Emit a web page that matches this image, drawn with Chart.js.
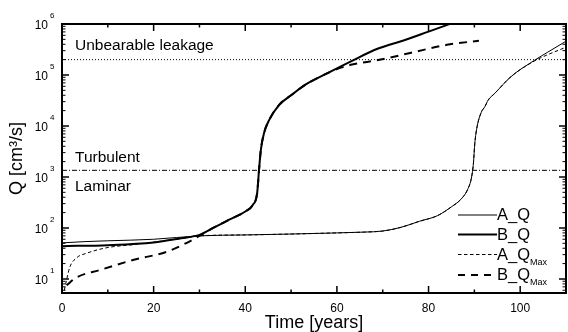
<!DOCTYPE html>
<html>
<head>
<meta charset="utf-8">
<script src="https://cdn.jsdelivr.net/npm/chart.js@4/dist/chart.umd.min.js"></script>
<style>
  html, body { margin: 0; padding: 0; background: #fff; }
  canvas { display: block; }
</style>
</head>
<body>
<canvas id="leakChart" width="568" height="332"></canvas>
<script>
// 1. DATA

const aQYears  = [0, 5, 10, 20, 30, 40, 50, 60, 66, 70, 74, 78, 82, 85, 87, 88.5, 89.4, 89.8, 90.1, 90.6, 91.5, 92.3, 93, 94.5, 98, 103.2, 106, 110];
const aQValues = [51, 54, 56, 60, 70, 73, 76, 80, 83, 87, 103, 135, 175, 260, 360, 560, 1000, 1870, 4600, 9700, 18500, 24000, 32000, 44000, 93000, 196000, 280000, 460000];

const bQYears  = [0, 10, 20, 26, 30, 33, 36.5, 40, 41.6, 42.6, 43, 43.4, 44.1, 45.2, 47.4, 50, 53.3, 57.6, 63.3, 69, 75, 80, 85];
const bQValues = [44, 46, 52, 63, 73, 100, 145, 210, 280, 490, 1370, 3400, 7300, 13000, 26000, 40000, 66000, 105000, 190000, 330000, 490000, 710000, 1030000];

const aQMaxYears  = [0.5, 1, 1.7, 3.2, 5.4, 9.8, 15.5, 21, 27, 30, 40, 50, 60, 66, 70, 74, 78, 82, 85, 87, 88.5, 89.4, 89.8, 90.1, 90.6, 91.5, 92.3, 93, 94.5, 98, 103.2, 106, 110];
const aQMaxValues = [6, 9.6, 17, 26, 32, 41, 47, 54, 64, 70, 73, 76, 80, 83, 87, 103, 135, 175, 260, 360, 560, 1000, 1870, 4600, 9700, 18500, 24000, 32000, 44000, 93000, 190000, 250000, 350000];

const bQMaxYears  = [1, 3, 8.3, 15.5, 22.8, 27, 30, 33, 36.5, 40, 41.6, 42.6, 43, 43.4, 44.1, 45.2, 47.4, 50, 53.3, 57.6, 60, 63.3, 69, 76, 84, 91];
const bQMaxValues = [7.5, 10.5, 15, 23.5, 34, 50, 70, 100, 145, 210, 280, 490, 1370, 3400, 7300, 13000, 26000, 40000, 66000, 105000, 130000, 160000, 196000, 270000, 390000, 470000];

const leakageLimit = 200000;   // "Unbearable leakage"
const turbulentLimit = 1350;   // Turbulent / Laminar
const xRange = [0, 110];
const yRange = [5.3, 1000000];
const xMajorTicks = [0, 20, 40, 60, 80, 100];
const yDecades = [1, 2, 3, 4, 5, 6];

// 2. HELPER

const FONT = "'Liberation Sans', Arial, Helvetica, sans-serif";

function toPoints(xs, ys) {
  return xs.map((x, i) => ({ x: x, y: ys[i] }));
}

function lineSet(label, xs, ys, width, dash) {
  return {
    label: label,
    data: toPoints(xs, ys),
    borderColor: '#000',
    borderWidth: width,
    borderDash: dash,
    pointRadius: 0,
    fill: false,
    cubicInterpolationMode: 'monotone'
  };
}

// 3. PLUGIN: frame, inward ticks, decade labels, notes, legend
const decorations = {
  id: 'decorations',
  afterDraw(chart) {
    const ctx = chart.ctx;
    const a = chart.chartArea;
    const xs = chart.scales.x;
    const ys = chart.scales.y;
    ctx.save();
    ctx.strokeStyle = '#000';
    ctx.fillStyle = '#000';

    // frame
    ctx.lineWidth = 2;
    ctx.strokeRect(a.left, a.top, a.right - a.left, a.bottom - a.top);

    // x ticks (top + bottom)
    ctx.lineWidth = 1.5;
    for (let v = xRange[0]; v <= xRange[1]; v += 10) {
      const px = xs.getPixelForValue(v);
      const len = v % 20 === 0 ? 7 : 3.5;
      ctx.beginPath();
      ctx.moveTo(px, a.bottom); ctx.lineTo(px, a.bottom - len);
      ctx.moveTo(px, a.top); ctx.lineTo(px, a.top + len);
      ctx.stroke();
    }

    // y ticks (left + right), log minor ticks
    for (let d = 0; d <= 6; d++) {
      for (let m = 1; m <= 9; m++) {
        const v = m * Math.pow(10, d);
        if (v < yRange[0] || v > yRange[1]) continue;
        const py = ys.getPixelForValue(v);
        const len = m === 1 ? 7 : 3.5;
        ctx.lineWidth = m === 1 ? 1.5 : 1;
        ctx.beginPath();
        ctx.moveTo(a.left, py); ctx.lineTo(a.left + len, py);
        ctx.moveTo(a.right, py); ctx.lineTo(a.right - len, py);
        ctx.stroke();
      }
    }

    // decade labels 10^n
    yDecades.forEach(d => {
      const py = ys.getPixelForValue(Math.pow(10, d));
      ctx.font = '12px ' + FONT;
      ctx.textAlign = 'right';
      ctx.textBaseline = 'middle';
      ctx.fillText('10', 48, py + 1.5);
      ctx.font = '8px ' + FONT;
      ctx.textAlign = 'left';
      ctx.fillText(String(d), 50, py - 8);
    });

    // notes on the regimes
    ctx.font = '15.5px ' + FONT;
    ctx.textAlign = 'left';
    ctx.textBaseline = 'middle';
    const nx = xs.getPixelForValue(xRange[0]) + 13;
    ctx.fillText('Unbearable leakage', nx, ys.getPixelForValue(leakageLimit) - 14);
    ctx.fillText('Turbulent', nx, ys.getPixelForValue(turbulentLimit) - 13);
    ctx.fillText('Laminar', nx, ys.getPixelForValue(turbulentLimit) + 16);

    // legend
    const rows = [
      { name: 'A_Q', sub: '', w: 1, dash: [] },
      { name: 'B_Q', sub: '', w: 2, dash: [] },
      { name: 'A_Q', sub: 'Max', w: 1, dash: [3.5, 2.5] },
      { name: 'B_Q', sub: 'Max', w: 2, dash: [7, 6] }
    ];
    const lx0 = 458, lx1 = 497;
    const rowY = [215, 234.5, 254.5, 275];
    rows.forEach((r, i) => {
      const y = rowY[i];
      ctx.lineWidth = r.w;
      ctx.setLineDash(r.dash);
      ctx.beginPath();
      ctx.moveTo(lx0, y); ctx.lineTo(lx1, y);
      ctx.stroke();
      ctx.setLineDash([]);
      ctx.font = '16.5px ' + FONT;
      ctx.textAlign = 'left';
      ctx.textBaseline = 'middle';
      ctx.fillText(r.name, lx1, y + 0.5);
      if (r.sub) {
        const w = ctx.measureText(r.name).width;
        ctx.font = '9px ' + FONT;
        ctx.fillText(r.sub, lx1 + w, y + 8);
      }
    });
    ctx.restore();
  }
};

// 4. CHART

const ctx = document.getElementById('leakChart').getContext('2d');
new Chart(ctx, {
  type: 'line',
  data: {
    datasets: [
      lineSet('A_Q', aQYears, aQValues, 1, []),
      lineSet('B_Q', bQYears, bQValues, 2, []),
      lineSet('A_Q_Max', aQMaxYears, aQMaxValues, 1, [3.5, 2.5]),
      lineSet('B_Q_Max', bQMaxYears, bQMaxValues, 2, [8, 6]),
      lineSet('Unbearable leakage', xRange, [leakageLimit, leakageLimit], 1, [1, 2]),
      lineSet('Turbulent', xRange, [turbulentLimit, turbulentLimit], 1, [5, 2, 1, 2])
    ]
  },
  options: {
    responsive: false,
    animation: false,
    devicePixelRatio: 1,
    layout: { padding: { top: 24, right: 2, left: 0, bottom: 0 } },
    plugins: {
      legend: { display: false },
      tooltip: { enabled: false }
    },
    scales: {
      x: {
        type: 'linear',
        min: xRange[0],
        max: xRange[1],
        afterFit: s => { s.height = 39; },
        afterBuildTicks: s => { s.ticks = xMajorTicks.map(v => ({ value: v })); },
        grid: { display: false, drawTicks: false },
        border: { display: false },
        ticks: {
          padding: 8,
          color: '#000',
          maxRotation: 0,
          font: { family: FONT, size: 12 }
        },
        title: {
          display: true,
          text: 'Time [years]',
          color: '#000',
          padding: { top: 0, bottom: 0 },
          font: { family: FONT, size: 18, lineHeight: 1 }
        }
      },
      y: {
        type: 'logarithmic',
        min: yRange[0],
        max: yRange[1],
        afterFit: s => { s.width = 62; },
        grid: { display: false, drawTicks: false },
        border: { display: false },
        ticks: { display: false },
        title: {
          display: true,
          text: 'Q [cm³/s]',
          color: '#000',
          padding: { top: 8, bottom: 0 },
          font: { family: FONT, size: 18, lineHeight: 1 }
        }
      }
    }
  },
  plugins: [decorations]
});
</script>
</body>
</html>
